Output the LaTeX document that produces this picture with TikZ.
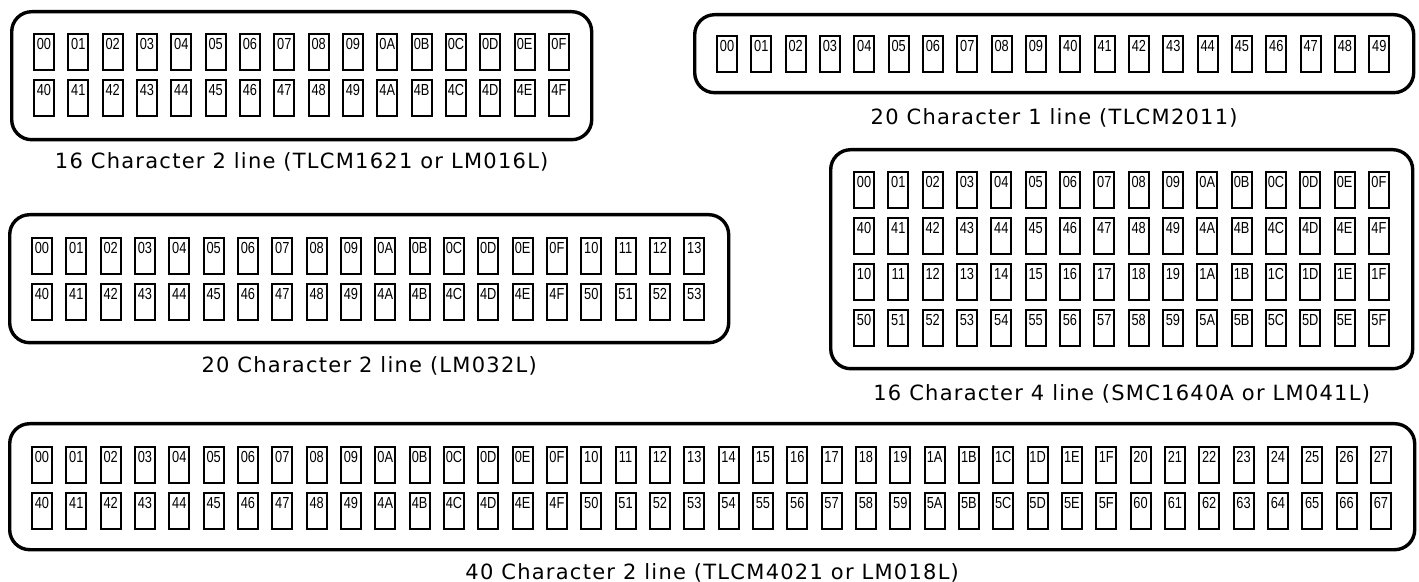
\documentclass[tikz,border=0pt]{standalone}
\usepackage{fontspec}
\setmainfont{DejaVu Sans}
\newfontfamily\capfont[LetterSpace=6.0]{DejaVu Sans}
\newfontfamily\cellfont{Liberation Sans}
\newcommand\lcdrow[6]{% #1 prefix, #2 row y (px), #3 x0 (px), #4 last index, #5 base, #6 row tag
  \foreach \i in {0,...,#4}{%
    \pgfmathtruncatemacro\v{#5+\i}%
    \pgfmathparse{Hex(\v)}%
    \edef\lbl{\ifnum\v<16 0\fi\pgfmathresult}%
    \node[cellbox] (#1#6c\i) at ({#3+\i*34.33},#2) {};
    \node[celllabel] (#1#6t\i) at ([yshift=-2.5pt]#1#6c\i.north) {\scalebox{0.8}[1]{\lbl}};
  }}
\begin{document}
\begin{tikzpicture}[x=0.5pt,y=-0.5pt,
  panel/.style={draw, line width=1.7pt, rounded corners=10pt, inner sep=0pt, anchor=north west},
  cellbox/.style={draw, line width=1pt, minimum width=10pt, minimum height=18pt, inner sep=0pt, anchor=north west},
  celllabel/.style={font=\cellfont\fontsize{8}{8}\selectfont, inner sep=0pt, anchor=north},
  caption/.style={font=\capfont\fontsize{10.5}{12}\selectfont, inner sep=0pt}]
\useasboundingbox (0,0) rectangle (1419,582);
% panel 1: 16 x 2
\node[panel, minimum width=290pt, minimum height=64pt] (p1) at (10,10) {};
\lcdrow{p1}{33}{33}{15}{0}{a}
\lcdrow{p1}{79}{33}{15}{64}{b}
\node[caption] (c1) at ([yshift=-10.5pt]p1.south) {16 Character 2 line (TLCM1621 or LM016L)};
% panel 2: 20 x 1
\node[panel, minimum width=359.5pt, minimum height=39pt] (p2) at (693,13) {};
\lcdrow{p2}{35}{716}{9}{0}{a}
\lcdrow{p2}{35}{1059.3}{9}{64}{b}
\node[caption] (c2) at ([yshift=-12pt]p2.south) {20 Character 1 line (TLCM2011)};
% panel 3: 20 x 2
\node[panel, minimum width=359.5pt, minimum height=64pt] (p3) at (8,213) {};
\lcdrow{p3}{237}{31}{19}{0}{a}
\lcdrow{p3}{283}{31}{19}{64}{b}
\node[caption] (c3) at ([yshift=-11pt]p3.south) {20 Character 2 line (LM032L)};
% panel 4: 16 x 4
\node[panel, minimum width=291pt, minimum height=109.5pt] (p4) at (829,148) {};
\lcdrow{p4}{171}{853}{15}{0}{a}
\lcdrow{p4}{217}{853}{15}{64}{b}
\lcdrow{p4}{263}{853}{15}{16}{c}
\lcdrow{p4}{309}{853}{15}{80}{d}
\node[caption] (c4) at ([yshift=-12pt]p4.south) {16 Character 4 line (SMC1640A or LM041L)};
% panel 5: 40 x 2
\node[panel, minimum width=702.5pt, minimum height=63pt] (p5) at (8,422) {};
\lcdrow{p5}{446}{31}{39}{0}{a}
\lcdrow{p5}{492}{31}{39}{64}{b}
\node[caption] (c5) at ([yshift=-11pt]p5.south) {40 Character 2 line (TLCM4021 or LM018L)};
\end{tikzpicture}
\end{document}
